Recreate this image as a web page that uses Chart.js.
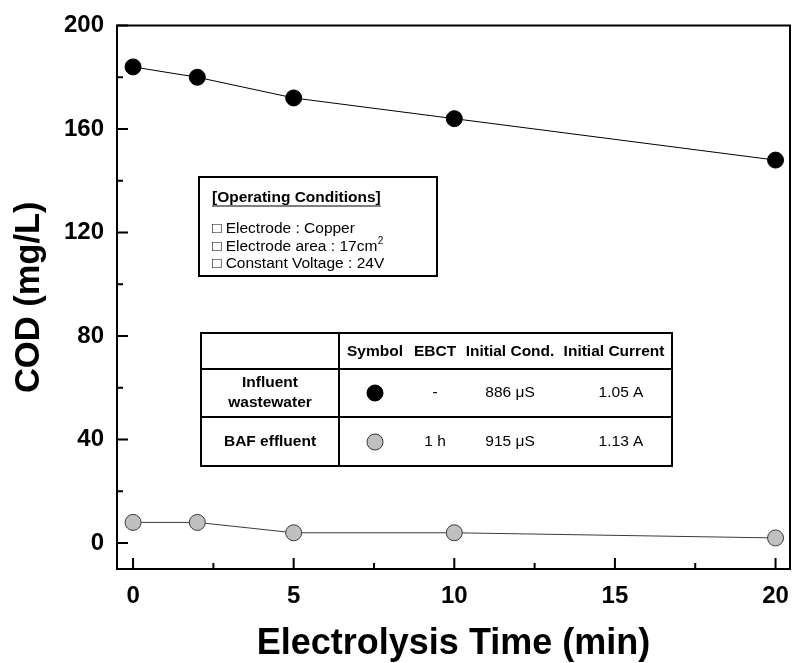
<!DOCTYPE html>
<html>
<head>
<meta charset="utf-8">
<script src="https://cdn.jsdelivr.net/npm/chart.js@4/dist/chart.umd.min.js"></script>
<style>
  html, body { margin: 0; padding: 0; background: #fff; }
  #wrap { width: 793px; height: 663px; }
</style>
</head>
<body>
<div id="wrap"><canvas id="c" width="793" height="663"></canvas></div>
<script>
// ---- data ----
const times = [0, 2, 5, 10, 20];
const influentCOD = [184, 180, 172, 164, 148];
const bafCOD = [8, 8, 4, 4, 2];
const xTickValues = [0, 5, 10, 15, 20];
const xMinorValues = [2.5, 7.5, 12.5, 17.5];
const yTickValues = [0, 40, 80, 120, 160, 200];
const yMinorValues = [20, 60, 100, 140, 180];
const conditionTitle = '[Operating Conditions]';
const conditionLines = ['\u25A1 Electrode : Copper', '\u25A1 Electrode area : 17cm', '\u25A1 Constant Voltage : 24V'];
const tableHeaders = ['Symbol', 'EBCT', 'Initial Cond.', 'Initial Current'];
const tableLabels = [['Influent', 'wastewater'], ['BAF effluent']];
const tableEBCT = ['-', '1 h'];
const tableCond = ['886 \u03BCS', '915 \u03BCS'];
const tableCurrent = ['1.05 A', '1.13 A'];

const FONT = '"Liberation Sans", Arial, Helvetica, sans-serif';

const overlay = {
  id: 'overlay',
  afterDraw(chart) {
    const ctx = chart.ctx;
    const a = chart.chartArea;
    const xs = chart.scales.x, ys = chart.scales.y;
    ctx.save();
    // frame
    ctx.strokeStyle = '#000';
    ctx.lineWidth = 2;
    ctx.strokeRect(a.left, a.top, a.right - a.left, a.bottom - a.top);
    // ticks
    ctx.beginPath();
    xTickValues.forEach(v => { const p = xs.getPixelForValue(v); ctx.moveTo(p, a.bottom); ctx.lineTo(p, a.bottom - 11); });
    xMinorValues.forEach(v => { const p = xs.getPixelForValue(v); ctx.moveTo(p, a.bottom); ctx.lineTo(p, a.bottom - 6); });
    yTickValues.forEach(v => { const p = ys.getPixelForValue(v); ctx.moveTo(a.left, p); ctx.lineTo(a.left + 11, p); });
    yMinorValues.forEach(v => { const p = ys.getPixelForValue(v); ctx.moveTo(a.left, p); ctx.lineTo(a.left + 6, p); });
    ctx.stroke();

    // operating conditions box
    ctx.fillStyle = '#fff';
    ctx.fillRect(199, 177, 238, 99);
    ctx.lineWidth = 2;
    ctx.strokeRect(199, 177, 238, 99);
    ctx.fillStyle = '#000';
    ctx.textBaseline = 'middle';
    ctx.textAlign = 'left';
    ctx.font = 'bold 15.5px ' + FONT;
    ctx.fillText(conditionTitle, 212, 198);
    const tw = ctx.measureText(conditionTitle).width;
    ctx.lineWidth = 1.2;
    ctx.beginPath(); ctx.moveTo(212, 206); ctx.lineTo(212 + tw, 206); ctx.stroke();
    ctx.font = '15.5px ' + FONT;
    const ly = [229, 246.5, 263.5];
    conditionLines.forEach((t, i) => {
      ctx.fillText(t, 212, ly[i]);
      if (i === 1) {
        const w = ctx.measureText(t).width;
        ctx.font = '10px ' + FONT;
        ctx.fillText('2', 212 + w + 0.5, ly[i] - 5);
        ctx.font = '15.5px ' + FONT;
      }
    });

    // table
    const L = 201, R = 672, T = 333, B = 466, r1 = 369, r2 = 417, cdiv = 339;
    ctx.fillStyle = '#fff';
    ctx.fillRect(L, T, R - L, B - T);
    ctx.strokeStyle = '#000';
    ctx.lineWidth = 2;
    ctx.strokeRect(L, T, R - L, B - T);
    ctx.beginPath();
    ctx.moveTo(L, r1); ctx.lineTo(R, r1);
    ctx.moveTo(L, r2); ctx.lineTo(R, r2);
    ctx.moveTo(cdiv, T); ctx.lineTo(cdiv, B);
    ctx.stroke();
    ctx.fillStyle = '#000';
    ctx.textAlign = 'center';
    ctx.font = 'bold 15.5px ' + FONT;
    const colX = [375, 435, 510, 614];
    tableHeaders.forEach((h, i) => ctx.fillText(h, colX[i], 352));
    const rowY = [393, 442];
    ctx.fillText(tableLabels[0][0], 270, 383);
    ctx.fillText(tableLabels[0][1], 270, 403);
    ctx.fillText(tableLabels[1][0], 270, rowY[1]);
    ctx.font = '15.5px ' + FONT;
    const dsets = chart.data.datasets;
    rowY.forEach((y, i) => {
      const ds = dsets[i];
      ctx.beginPath();
      ctx.arc(colX[0], y, 8, 0, Math.PI * 2);
      ctx.fillStyle = ds.pointBackgroundColor;
      ctx.fill();
      ctx.lineWidth = 1;
      ctx.strokeStyle = ds.pointBorderColor;
      ctx.stroke();
      ctx.fillStyle = '#000';
      ctx.fillText(tableEBCT[i], colX[1], y);
      ctx.fillText(tableCond[i], colX[2], y);
      ctx.fillText(tableCurrent[i], 621, y);
    });
    ctx.restore();
  }
};

new Chart(document.getElementById('c'), {
  type: 'line',
  data: {
    datasets: [
      {
        label: 'Influent wastewater',
        data: times.map((t, i) => ({ x: t, y: influentCOD[i] })),
        borderColor: '#000',
        borderWidth: 1,
        pointRadius: 8,
        pointBackgroundColor: '#000',
        pointBorderColor: '#000',
        pointBorderWidth: 1,
        tension: 0,
        clip: false
      },
      {
        label: 'BAF effluent',
        data: times.map((t, i) => ({ x: t, y: bafCOD[i] })),
        borderColor: '#3a3a3a',
        borderWidth: 1,
        pointRadius: 8,
        pointBackgroundColor: '#c0c0c0',
        pointBorderColor: '#3a3a3a',
        pointBorderWidth: 1,
        tension: 0,
        clip: false
      }
    ]
  },
  options: {
    responsive: false,
    animation: false,
    devicePixelRatio: 1,
    layout: { autoPadding: false, padding: { top: 25.5, right: 3, left: 0, bottom: 0 } },
    plugins: { legend: { display: false }, tooltip: { enabled: false } },
    scales: {
      x: {
        type: 'linear',
        min: -0.5, max: 20.45,
        grid: { display: false, drawTicks: false },
        border: { display: false },
        afterBuildTicks: s => { s.ticks = xTickValues.map(v => ({ value: v })); },
        afterFit: s => { s.height = 94; s.paddingLeft = 0; s.paddingRight = 0; },
        ticks: { color: '#000', padding: 13, font: { family: FONT, size: 24, weight: 'bold' } },
        title: { display: true, text: 'Electrolysis Time (min)', color: '#000', padding: { top: 0, bottom: -3 }, font: { family: FONT, size: 36, weight: 'bold' } }
      },
      y: {
        type: 'linear',
        min: -10, max: 200,
        grid: { display: false, drawTicks: false },
        border: { display: false },
        afterBuildTicks: s => { s.ticks = yTickValues.map(v => ({ value: v })); },
        afterFit: s => { s.width = 117; s.paddingTop = 0; s.paddingBottom = 0; },
        ticks: { color: '#000', padding: 13, font: { family: FONT, size: 24, weight: 'bold' } },
        title: { display: true, text: 'COD (mg/L)', color: '#000', padding: { top: 9, bottom: 0 }, font: { family: FONT, size: 34.5, weight: 'bold' } }
      }
    }
  },
  plugins: [overlay]
});
</script>
</body>
</html>
